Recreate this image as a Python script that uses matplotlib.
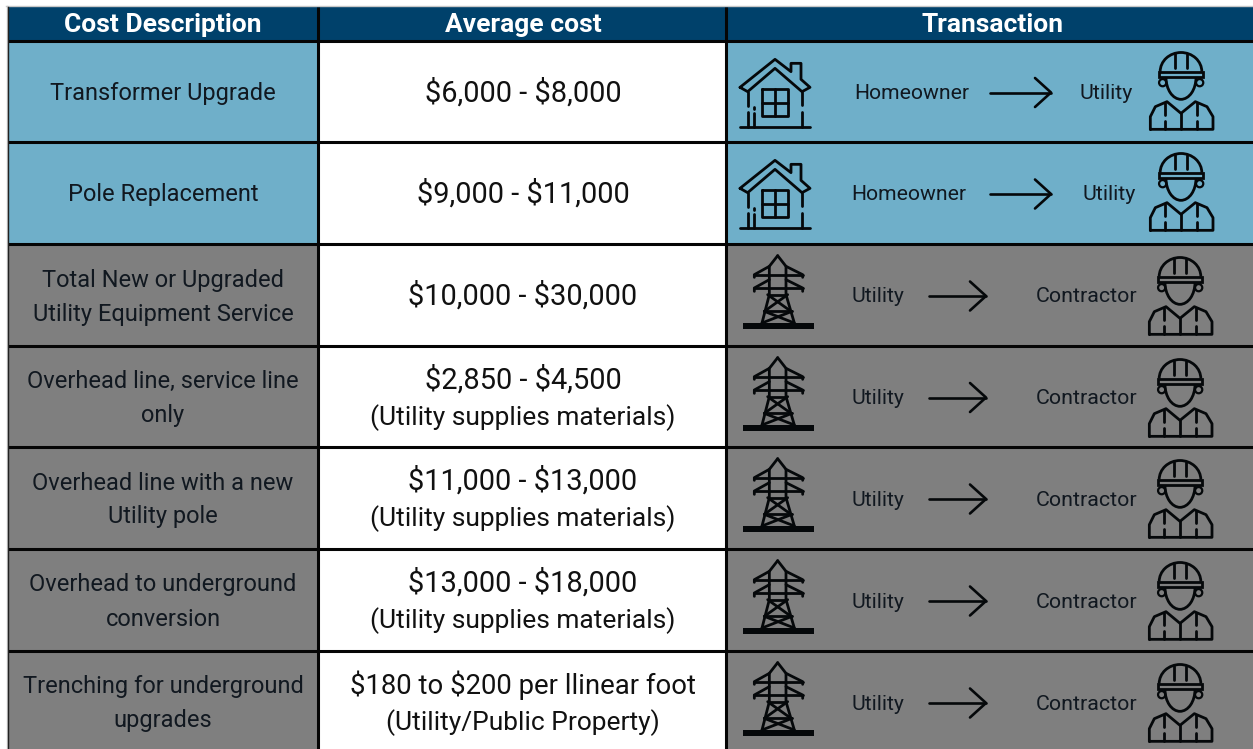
import matplotlib
matplotlib.use("Agg")
import matplotlib.pyplot as plt
from matplotlib.patches import Rectangle, Circle, Arc

plt.rcParams['font.family'] = ['Roboto', 'DejaVu Sans']
plt.rcParams['text.parse_math'] = False

headers = ["Cost Description", "Average cost", "Transaction"]
descriptions = ["Transformer Upgrade", "Pole Replacement",
                "Total New or Upgraded\nUtility Equipment Service",
                "Overhead line, service line\nonly",
                "Overhead line with a new\nUtility pole",
                "Overhead to underground\nconversion",
                "Trenching for underground\nupgrades"]
costs = ["$6,000 - $8,000", "$9,000 - $11,000", "$10,000 - $30,000",
         "$2,850 - $4,500", "$11,000 - $13,000", "$13,000 - $18,000",
         "$180 to $200 per llinear foot"]
notes = ["", "", "", "(Utility supplies materials)", "(Utility supplies materials)",
         "(Utility supplies materials)", "(Utility/Public Property)"]
payers = ["Homeowner", "Homeowner", "Utility", "Utility", "Utility", "Utility", "Utility"]
payees = ["Utility", "Utility", "Contractor", "Contractor", "Contractor", "Contractor", "Contractor"]

NAVY, BLUE, GREY, INK = "#00416B", "#6FAFC9", "#7F7F7F", "#111820"
row_edges = [41, 142, 244, 346, 447, 549, 651, 753]
col_edges = [8, 318, 726, 1256]

fig = plt.figure(figsize=(12.53, 7.49), dpi=100)
ax = fig.add_axes([0, 0, 1, 1])
ax.set_xlim(0, 1253)
ax.set_ylim(749, 0)
ax.axis("off")

def lines(paths, ox, oy, lw=2.0):
    for p in paths:
        ax.plot([ox + x / 3 for x, _ in p], [oy + y / 3 for _, y in p], color="#05080a",
                lw=lw, solid_capstyle="round", solid_joinstyle="round", zorder=4)

def house(ox, oy):
    lines([[(42, 262), (147, 178), (195, 215), (195, 190), (225, 190), (225, 238), (252, 262),
            (228, 275), (147, 205), (65, 275), (42, 262)],
           [(65, 275), (65, 318)], [(65, 335), (65, 382)], [(85, 322), (85, 326)], [(85, 338), (85, 382)],
           [(228, 275), (228, 315)], [(228, 335), (228, 382)], [(42, 382), (252, 382)],
           [(107, 268), (187, 268), (187, 348), (107, 348), (107, 268)],
           [(147, 268), (147, 348)], [(107, 308), (187, 308)]], ox, oy - 41)

def worker(ox, oy):
    o = (ox - 1352 / 3, oy - 41)
    def X(x): return o[0] + x / 3
    def Y(y): return o[1] + y / 3
    kw = dict(color="#05080a", lw=2.0, fill=False, zorder=4)
    ax.add_patch(Arc((X(1352), Y(215)), 125 / 3, 115 / 3, theta1=180, theta2=360,
                     color="#05080a", lw=2.0, zorder=4))
    ax.add_patch(Rectangle((X(1287), Y(215)), 132 / 3, 17 / 3, **kw))
    ax.add_patch(Arc((X(1352), Y(232)), 90 / 3, 132 / 3, theta1=0, theta2=180,
                     color="#05080a", lw=2.0, zorder=4))
    for ex in (1297, 1408):
        ax.add_patch(Circle((X(ex), Y(248)), 3.6, color="#05080a", lw=1.6, fill=False, zorder=3))
    lines([[(1335, 162), (1335, 205)], [(1370, 162), (1370, 205)],
           [(1260, 388), (1260, 350), (1275, 320), (1310, 305), (1352, 340), (1395, 305),
            (1430, 320), (1448, 350), (1448, 388), (1260, 388)],
           [(1352, 340), (1352, 388)], [(1305, 310), (1305, 345)], [(1305, 362), (1305, 388)],
           [(1400, 310), (1400, 345)], [(1400, 362), (1400, 388)]], ox - 1352 / 3, oy - 41)

def tower(ox, oy):
    lines([[(155, 38), (130, 70), (130, 155), (108, 240)], [(155, 38), (180, 70), (180, 155), (205, 240)],
           [(85, 103), (85, 95), (130, 70)], [(230, 103), (230, 95), (180, 70)], [(85, 95), (230, 95)],
           [(85, 145), (85, 135), (130, 110)], [(230, 145), (230, 135), (180, 110)], [(85, 135), (230, 135)],
           [(130, 155), (180, 155)], [(125, 155), (195, 205)], [(185, 155), (115, 205)],
           [(115, 205), (198, 205)], [(115, 205), (205, 240)], [(198, 205), (108, 240)]], ox, oy)
    ax.add_patch(Rectangle((ox + 52 / 3, oy + 240 / 3), 213 / 3, 18 / 3, color="#05080a", lw=0, zorder=4))

def arrow(x0, x1, y):
    ax.plot([x0, x1], [y, y], color="#05080a", lw=1.9, solid_capstyle="round", zorder=4)
    ax.plot([x1 - 16, x1, x1 - 16], [y - 14.5, y, y + 14.5], color="#05080a", lw=1.9,
            solid_capstyle="round", solid_joinstyle="round", zorder=4)

ax.add_patch(Rectangle((col_edges[0], 7), col_edges[-1] - col_edges[0], 34, color=NAVY, lw=0))
ax.plot([6, 1253], [6, 6], color="#c8c8c8", lw=1)
ax.plot([7, 7], [6, 749], color="#c8c8c8", lw=1)
for i, h in enumerate(headers):
    cx = [163, 523, 993][i]
    ax.text(cx, 25, h, color="white", fontsize=19, fontweight="bold", ha="center", va="center")

payer_x = [912, 909, 878, 878, 878, 878, 878]
payee_x = [1106, 1109, 1087, 1087, 1087, 1087, 1087]

for r, desc in enumerate(descriptions):
    top, bottom = row_edges[r], row_edges[r + 1]
    mid = (top + bottom) / 2
    is_blue = r < 2
    fill = BLUE if is_blue else GREY
    ax.add_patch(Rectangle((col_edges[0], top), col_edges[1] - col_edges[0], bottom - top, color=fill, lw=0))
    ax.add_patch(Rectangle((col_edges[1], top), col_edges[2] - col_edges[1], bottom - top, color="white", lw=0))
    ax.add_patch(Rectangle((col_edges[2], top), col_edges[3] - col_edges[2], bottom - top, color=fill, lw=0))

    parts = desc.split("\n")
    if len(parts) == 1:
        ax.text(163, mid + 2, parts[0], color=INK, fontsize=17, ha="center", va="center")
    else:
        ax.text(163, mid - 15, parts[0], color=INK, fontsize=17, ha="center", va="center")
        ax.text(163, mid + 19, parts[1], color=INK, fontsize=17, ha="center", va="center")

    cost_size = 19.8 if "per" in costs[r] else 20.9
    if notes[r]:
        ax.text(523, mid - 17, costs[r], color="#111111", fontsize=cost_size, ha="center", va="center")
        ax.text(523, mid + 21, notes[r], color="#111111", fontsize=19, ha="center", va="center")
    else:
        ax.text(523, mid + 1, costs[r], color="#111111", fontsize=cost_size, ha="center", va="center")

    ax.text(payer_x[r], mid + 2, payers[r], color=INK, fontsize=15.2, ha="center", va="center")
    ax.text(payee_x[r], mid + 2, payees[r], color=INK, fontsize=15.4, ha="center", va="center")
    if is_blue:
        arrow(990, 1051, mid + 1)
        house(726, top)
        worker(1181, top)
    else:
        arrow(929, 986, mid + 1)
        tower(726, top - 1)
        worker(1180, top + 2)

for y in row_edges[:-1]:
    ax.plot([col_edges[0], 1253], [y, y], color="#050505", lw=2.2, zorder=3, solid_capstyle="butt")
for x in col_edges[1:3]:
    ax.plot([x, x], [7, 749], color="#050505", lw=2.2, zorder=3, solid_capstyle="butt")
ax.plot([8, 8], [7, 749], color="#222222", lw=1, zorder=3)

fig.savefig("out.png", dpi=100)
